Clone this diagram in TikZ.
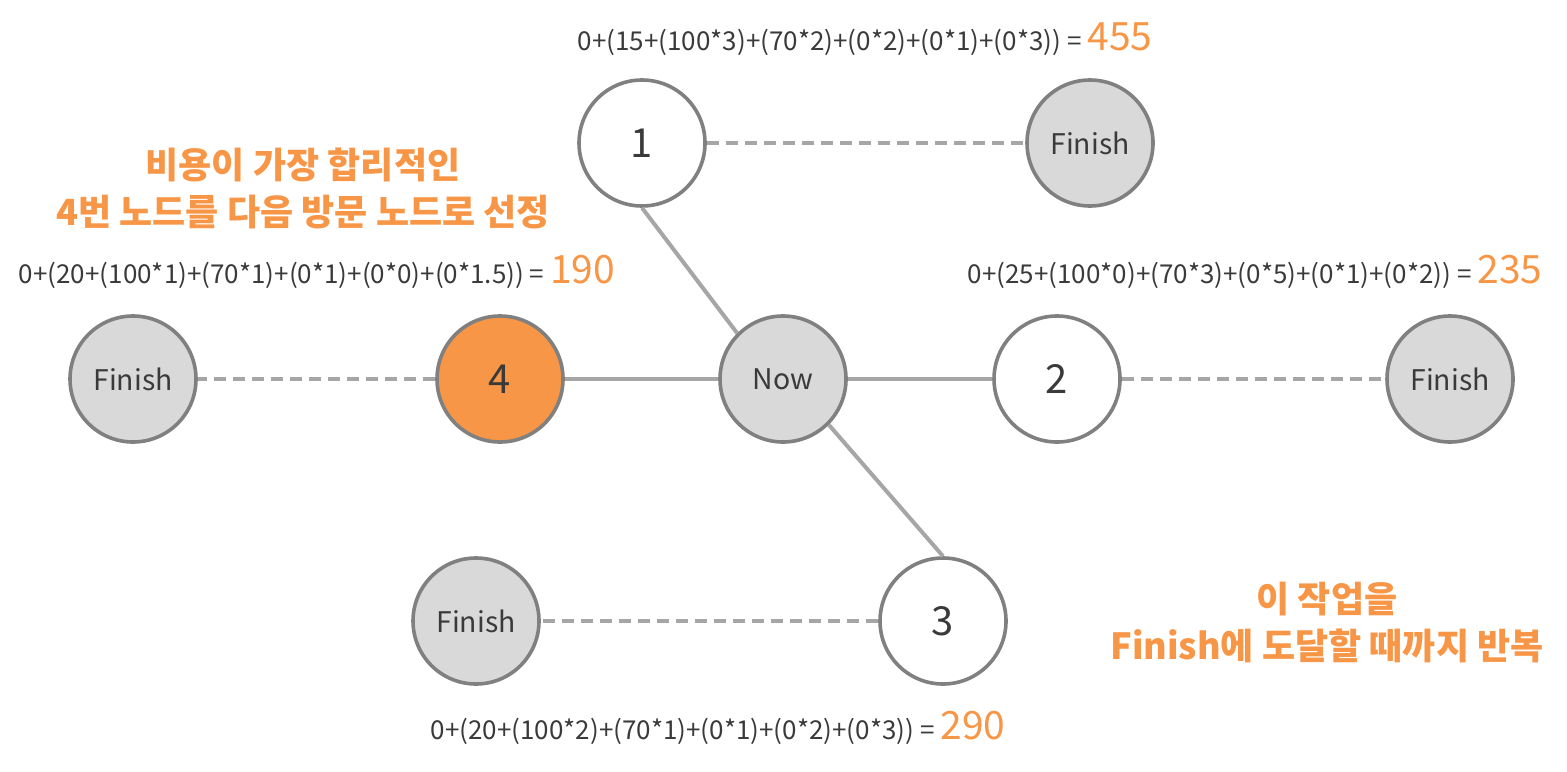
\documentclass[tikz,border=0pt]{standalone}
\usepackage{fontspec}
\setmainfont{Noto Sans CJK KR}
\usepackage{tikz}
\definecolor{accent}{HTML}{F79646}
\definecolor{rim}{HTML}{808080}
\definecolor{wirecol}{HTML}{A6A6A6}
\definecolor{shade}{HTML}{D9D9D9}
\definecolor{ink}{HTML}{3A3A3A}

\begin{document}
\begin{tikzpicture}
		[x=0.5pt, y=-0.5pt,
		vertex/.style={circle, draw=rim, line width=1.8pt, fill=white, minimum size=63pt, inner sep=0pt, text=ink, font=\fontsize{20}{20}\selectfont},
		goal/.style={vertex, fill=shade, font=\fontsize{14.2}{15}\selectfont},
		wire/.style={draw=wirecol, line width=2pt},
		trail/.style={wire, line width=2.3pt, dash pattern=on 6pt off 3.5pt},
		cost/.style={text=ink, inner sep=0pt, font=\fontsize{13}{14}\selectfont},
		note/.style={text=accent, align=center, inner sep=0pt, font=\bfseries\fontsize{18}{23.5}\selectfont}]
		\useasboundingbox (0,0) rectangle (1567,771);
		
		\node [vertex] (n1) at (642,143) {1};
		\node [vertex] (n2) at (1057,379) {2};
		\node [vertex] (n3) at (943,621) {3};
		\node [vertex, fill=accent] (n4) at (500,379) {4};
		\node [goal] (now) at (783,379) {Now};
		\foreach \n/\x/\y in {1/1090/143, 2/1450/379, 3/476/621, 4/133/379}
		\node [goal] (f\n) at (\x,\y) {Finish};
		
		\draw [wire] (now) -- (n4);
		\draw [wire] (now) -- (n2);
		\draw [wire] (n1.south) -- (now.135);
		\draw [wire] (now.-45) -- (n3.north);
		\foreach \n in {1,...,4}
		\draw [trail] (n\n) -- (f\n);
		
		% costs
		\node [cost, anchor=base] (c1) at (865,50) {0+(15+(100*3)+(70*2)+(0*2)+(0*1)+(0*3)) = \textcolor{accent}{\fontsize{19.5}{20}\selectfont 455}};
		\node [cost, anchor=base] (c2) at (1255,283) {0+(25+(100*0)+(70*3)+(0*5)+(0*1)+(0*2)) = \textcolor{accent}{\fontsize{19.5}{20}\selectfont 235}};
		\node [cost, anchor=base] (c3) at (718,739) {0+(20+(100*2)+(70*1)+(0*1)+(0*2)+(0*3)) = \textcolor{accent}{\fontsize{19.5}{20}\selectfont 290}};
		\node [cost, anchor=base] (c4) at (317,283) {0+(20+(100*1)+(70*1)+(0*1)+(0*0)+(0*1.5)) = \textcolor{accent}{\fontsize{19.5}{20}\selectfont 190}};
		
		\node [note] (pick) at (303,188) {비용이 가장 합리적인\\4번 노드를 다음 방문 노드로 선정};
		\node [note] (loop) at (1327,622) {이 작업을\\Finish에 도달할 때까지 반복};
\end{tikzpicture}
\end{document}
